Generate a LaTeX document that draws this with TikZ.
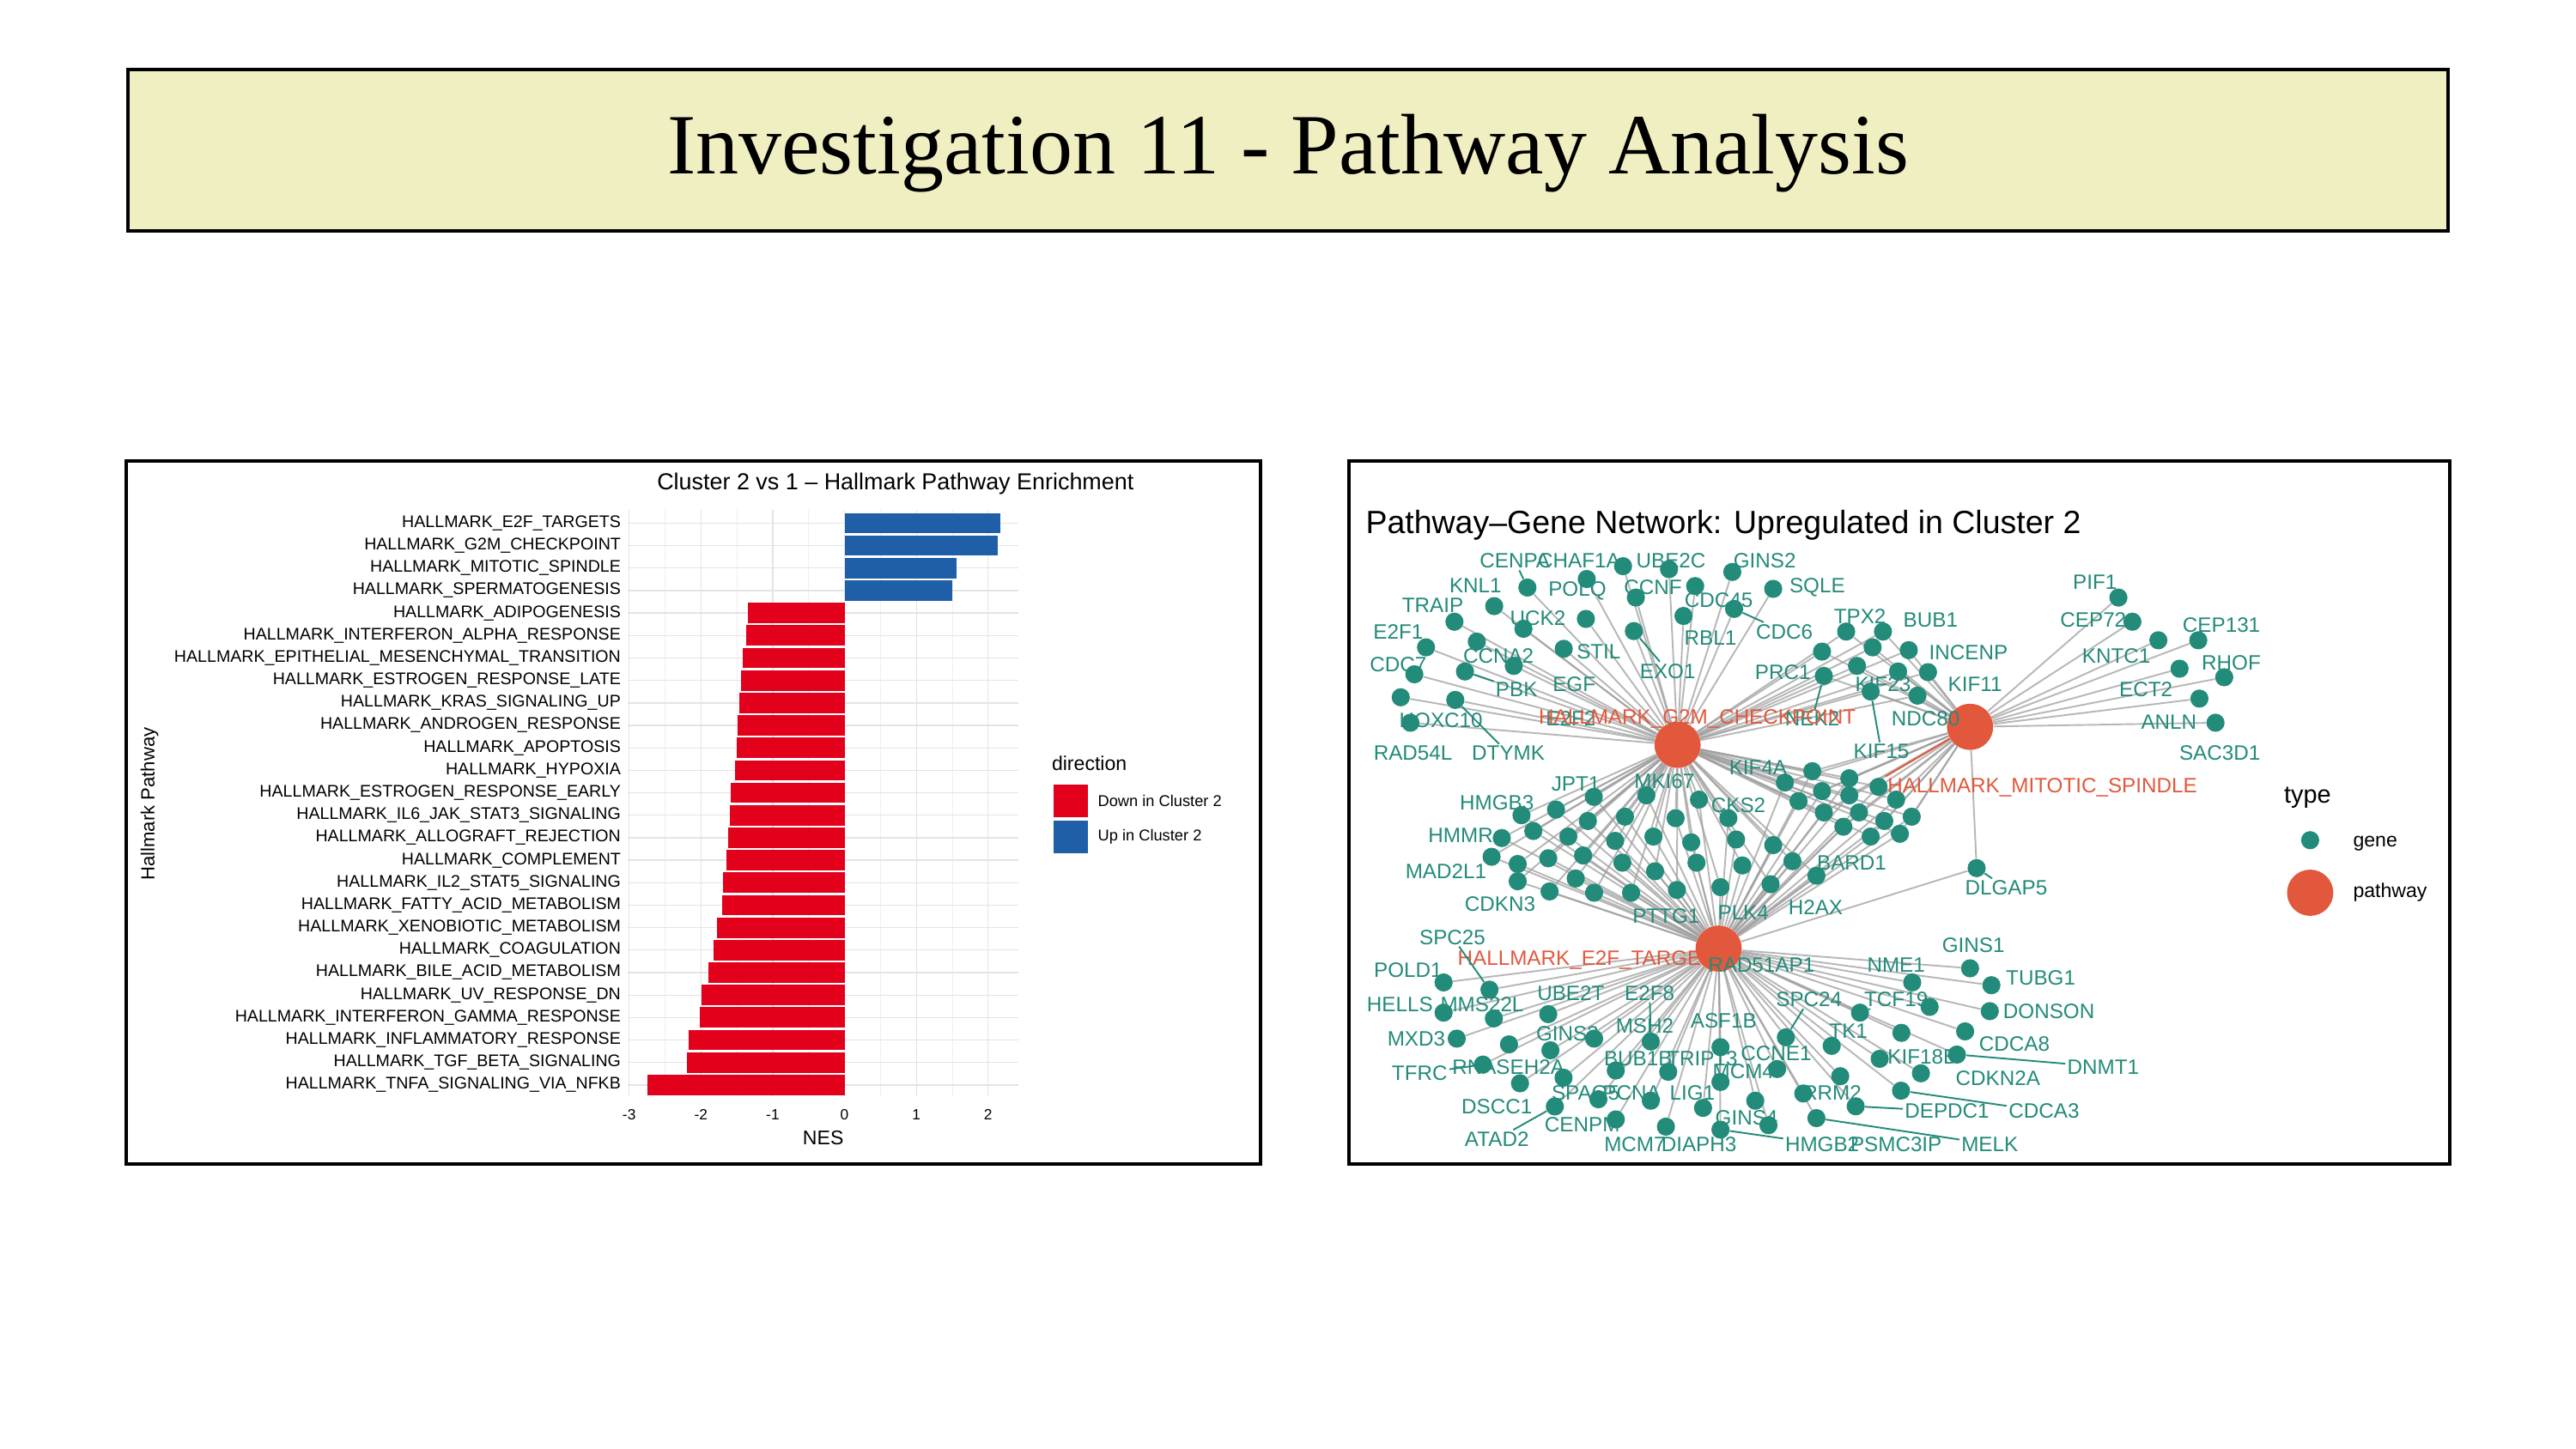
\documentclass[tikz,border=0pt]{standalone}
\usepackage{fontspec}
\setmainfont{Liberation Sans}
\newfontfamily\titlefont{Liberation Serif}
\pgfdeclarelayer{edges}
\pgfsetlayers{edges,main}
\definecolor{teal}{RGB}{35,139,122}
\definecolor{hubc}{RGB}{226,88,60}
\definecolor{titlebg}{RGB}{240,239,193}
\definecolor{barred}{RGB}{227,0,27}
\definecolor{barblue}{RGB}{30,95,168}
\definecolor{gridc}{RGB}{228,228,228}
\tikzset{
  panel/.style={draw=black,line width=2.2pt},
  gene/.style={circle,fill=teal,inner sep=0pt,minimum size=11pt},
  hub/.style={circle,fill=hubc,inner sep=0pt,minimum size=28pt},
  glab/.style={text=teal,font=\fontsize{12.6}{13}\selectfont,inner sep=1pt},
  hlab/.style={text=hubc,font=\fontsize{12.6}{13}\selectfont,inner sep=1pt},
  edge/.style={draw=gray!75,opacity=0.75,line width=1pt},
  leader/.style={draw=teal,line width=1pt},
  blab/.style={font=\fontsize{10.2}{11}\selectfont,anchor=east,inner sep=0pt},
  tick/.style={font=\fontsize{9}{10}\selectfont,inner sep=0pt},
}
\begin{document}
\begin{tikzpicture}[x=0.995pt,y=-0.995pt]
\useasboundingbox (0,-1.5) rectangle (1567.8,880.2);
\begin{pgfonlayer}{edges}
\fill[white] (0,-1.5) rectangle (1567.8,880.2);
\end{pgfonlayer}
% title
\draw[panel,fill=titlebg] (78,41) rectangle (1490,139);
\coordinate (tb) at (784,92);
\node[font=\titlefont\fontsize{52}{56}\selectfont] (title) at (tb) {Investigation 11 - Pathway Analysis};
% panels
\draw[panel] (77,279) rectangle (767,707);
\draw[panel] (821,279) rectangle (1491,707);

% ---------- bar chart ----------
\foreach \v in {-2.5,-1.5,-0.5,0.5,1.5} \draw[gridc!60,line width=0.4pt] (514+\v*43.7,309) -- (514+\v*43.7,666);
\foreach \v in {-3,-2,-1,0,1,2} \draw[gridc,line width=0.7pt] (514+\v*43.7,309) -- (514+\v*43.7,666);
\foreach \i in {1,...,26} \draw[gridc,line width=0.7pt] (382,317+\i*13.68-13.68) -- (620,317+\i*13.68-13.68);
\foreach \n/\v [count=\i] in {E2F\_TARGETS/2.17,G2M\_CHECKPOINT/2.13,MITOTIC\_SPINDLE/1.56,SPERMATOGENESIS/1.5}{
  \fill[barblue] (514,317+\i*13.68-13.68-6.2) rectangle (514+\v*43.7,317+\i*13.68-13.68+6.2);
  \node[blab] (bl\i) at (378,317+\i*13.68-13.68) {HALLMARK\_\n};
}
\foreach \n/\v [count=\i from 5] in {ADIPOGENESIS/-1.35,INTERFERON\_ALPHA\_RESPONSE/-1.37,EPITHELIAL\_MESENCHYMAL\_TRANSITION/-1.42,ESTROGEN\_RESPONSE\_LATE/-1.44,KRAS\_SIGNALING\_UP/-1.46,ANDROGEN\_RESPONSE/-1.49,APOPTOSIS/-1.5,HYPOXIA/-1.53,ESTROGEN\_RESPONSE\_EARLY/-1.58,IL6\_JAK\_STAT3\_SIGNALING/-1.6,ALLOGRAFT\_REJECTION/-1.62,COMPLEMENT/-1.65,IL2\_STAT5\_SIGNALING/-1.69,FATTY\_ACID\_METABOLISM/-1.7,XENOBIOTIC\_METABOLISM/-1.78,COAGULATION/-1.83,BILE\_ACID\_METABOLISM/-1.9,UV\_RESPONSE\_DN/-1.99,INTERFERON\_GAMMA\_RESPONSE/-2.01,INFLAMMATORY\_RESPONSE/-2.17,TGF\_BETA\_SIGNALING/-2.2,TNFA\_SIGNALING\_VIA\_NFKB/-2.75}{
  \fill[barred] (514,317+\i*13.68-13.68-6.2) rectangle (514+\v*43.7,317+\i*13.68-13.68+6.2);
  \node[blab] (bl\i) at (378,317+\i*13.68-13.68) {HALLMARK\_\n};
}
\foreach \v/\t in {-3/-3,-2/-2,-1/-1,0/0,1/1,2/2} \node[tick] (tk\t) at (514+\v*43.7,677) {\t};
\node[font=\fontsize{12}{13}\selectfont] (nes) at (501,691) {NES};
\node[font=\fontsize{11.5}{12}\selectfont,rotate=90] (ylab) at (91,488) {Hallmark Pathway};
\node[font=\fontsize{14}{15}\selectfont] (btitle) at (545,293) {Cluster 2 vs 1 – Hallmark Pathway Enrichment};
\node[font=\fontsize{12}{13}\selectfont,anchor=west,inner sep=0pt] (dir) at (640,463) {direction};
\fill[barred] (641,476) rectangle (662,496);
\fill[barblue] (641,498) rectangle (662,518);
\node[font=\fontsize{9.5}{10}\selectfont,anchor=west,inner sep=0pt] (ldown) at (668,486) {Down in Cluster 2};
\node[font=\fontsize{9.5}{10}\selectfont,anchor=west,inner sep=0pt] (lup) at (668,508) {Up in Cluster 2};

% ---------- network ----------
\node[font=\fontsize{19.5}{21}\selectfont,anchor=west,inner sep=0pt] (ntitle) at (831,318) {Pathway–Gene Network: Upregulated in Cluster 2};
\node[hlab,anchor=west] (le2f) at (886,583) {HALLMARK\_E2F\_TARGETS};
\node[hub] (g2m) at (1021,452) {};
\node[hub] (mit) at (1199,441) {};
\node[hub] (e2f) at (1046,576) {};

% G2M only
\foreach \x/\y [count=\i] in {987.8/343.2,1015.8/345,1054.3/346.7,1079.2/357,929.6/356.2,909.4/367.5,965.7/351,1031.7/355.3,995.6/362.3,1055.4/369.2,885.2/377,927.2/381.3,965.2/375.3,1024.6/373.5,867.9/392.6,898.8/389.1,921.3/403.9,951.7/393.5,994.4/382.7,860.8/409,891.6/407.3,852.5/423,885.7/424.6,858.4/438.5}{
  \node[gene] (a\i) at (\x,\y) {};
  \begin{pgfonlayer}{edges}\draw[edge] (a\i) -- (g2m);\end{pgfonlayer}
}
% G2M + E2F
\foreach \x/\y [count=\i] in {1002/482.7,970/483.6,926/494.8,914/508.7,1034/485.3,947/491.4,966.4/498.3,989/495.7,1019.8/496.6,1051.9/496.6,933.2/504.4,954.5/507.8,983/510.4,1006.3/507.8,1029.3/511.3,1056.6/509.6,1079.2/513,907.8/520.1,923.7/524.5,923.7/535,942.3/521,943.1/541.2,959/533.3,963.5/519.3,970.2/542,987.4/523.7,992.7/542,1007.3/528.9,1020.6/540.3,1032.5/523.7,1047.1/538.6,1060.4/525.4,1077.6/536.8,1090.9/522.8,1105.5/531.6}{
  \node[gene] (d\i) at (\x,\y) {};
  \begin{pgfonlayer}{edges}\draw[edge] (d\i) -- (g2m); \draw[edge] (d\i) -- (e2f);\end{pgfonlayer}
}
% G2M + MIT
\foreach \x/\y [count=\i] in {1123.6/383,1146/383,1108.9/395.2,1139.7/392.6,1130.2/403.9,1155.2/407.3,1138.5/419.5,1161.7/394.3,1173.4/407.7,1110/410,1167/422}{
  \node[gene] (e\i) at (\x,\y) {};
  \begin{pgfonlayer}{edges}\draw[edge] (e\i) -- (g2m); \draw[edge] (e\i) -- (mit);\end{pgfonlayer}
}
% G2M + MIT + E2F
\foreach \x/\y [count=\i] in {1086.3/474.9,1103/468,1125.5/472.3,1143.3/477.5,1094.6/486.2,1108.9/480.1,1125.5/482.7,1154/485.3,1110/493.1,1131.4/493.1,1146.8/498.3,1163.5/495.7,1121.9/501.8,1138.5/507.8,1156.3/506.1}{
  \node[gene] (f\i) at (\x,\y) {};
  \begin{pgfonlayer}{edges}\draw[edge] (f\i) -- (g2m); \draw[edge] (f\i) -- (mit); \draw[edge] (f\i) -- (e2f);\end{pgfonlayer}
}
% MIT only
\foreach \x/\y [count=\i] in {1289.3/362.3,1297.8/377,1313.6/388.3,1337.9/388.3,1353.7/410.8,1326.5/405.6,1338.6/423.8,1348.4/438.5}{
  \node[gene] (b\i) at (\x,\y) {};
  \begin{pgfonlayer}{edges}\draw[edge] (b\i) -- (mit);\end{pgfonlayer}
}
% MIT + E2F
\node[gene] (dlgap5) at (1203,527) {};
\begin{pgfonlayer}{edges}\draw[edge] (dlgap5) -- (mit); \draw[edge] (dlgap5) -- (e2f);\end{pgfonlayer}
% E2F only
\foreach \x/\y [count=\i] in {906.5/601,878.6/596.6,878.6/615,909.2/618.5,886.6/630.8,942.3/615.9,1004.7/632.6,970.2/630.8,1047.1/636,1163.8/596.6,1199/588,1212/598.3,1211/614.1,1086.9/630,1132/615,1174.4/611.5,1196/626.4,1114.8/635.2,1157.2/627.3,1144/643.1,1191/640.5,1169.1/651.9,1081.6/649.3,983.4/650.2,1015.3/651,1047.1/657.2,951.6/654.6,943.6/637.9,918.4/634.3,925.1/658,972.8/667.7,1004.7/668.6,1036.5/673,1068.3/668.6,1097.5/664.2,1120/653.7,1157/662.5,1129.4/672,1105.5/679.2,1076.3/683.5,1047.1/686.2,1013.9/684.4,983.4/680,946.3/672.1,902.5/646.6}{
  \node[gene] (c\i) at (\x,\y) {};
  \begin{pgfonlayer}{edges}\draw[edge] (c\i) -- (e2f);\end{pgfonlayer}
}

% gene labels
\foreach \t/\x/\y in {CENPA/922/340,CHAF1A/961/340,UBE2C/1017/340,GINS2/1074/340,KNL1/898/355,POLQ/960/358,CCNF/1006/356,CDC45/1046/364,SQLE/1106/356,TRAIP/872/367,UCK2/936/375,RBL1/1041/387,CDC6/1086/383,E2F1/851/383,CCNA2/912/398,STIL/973/395,EXO1/1015/407,CDC7/851/403,PBK/923/418,EGF/958/415,HOXC10/877/437,E2F2/956/436,RAD54L/860/457,DTYMK/918/457,TPX2/1132/374,BUB1/1175/376,PRC1/1085/408,KIF23/1146/415,INCENP/1198/396,KIF11/1202/415,NEK2/1103/436,NDC80/1172/436,KIF15/1145/456,PIF1/1275/353,CEP72/1274/376,CEP131/1352/379,KNTC1/1288/398,RHOF/1358/402,ECT2/1306/418,ANLN/1320/438,SAC3D1/1351/457,KIF4A/1070/466,MKI67/1013/474,JPT1/959/476,HMGB3/911/487,CKS2/1058/489,HMMR/889/507,MAD2L1/880/529,BARD1/1127/524,CDKN3/913/549,PTTG1/1014/556,PLK4/1061/554,H2AX/1105/551,DLGAP5/1221/539,SPC25/884/569,GINS1/1201/574,NME1/1154/586,RAD51AP1/1072/586,POLD1/857/589,TUBG1/1242/594,HELLS/852/610,MMS22L/902/610,UBE2T/956/603,E2F8/1004/603,SPC24/1101/607,TCF19/1154/607,DONSON/1247/614,ASF1B/1049/620,MSH2/1001/623,GINS3/954/628,TK1/1125/626,CDCA8/1226/634,MXD3/862/631,CCNE1/1081/640,BUB1B/997/643,TRIP13/1036/643,KIF18B/1170/642,DNMT1/1280/648,TFRC/864/652,RNASEH2A/918/648,MCM4/1061/651,CDKN2A/1216/655,SPAG5/965/664,PCNA/993/664,LIG1/1030/664,RRM2/1115/664,DSCC1/911/672,DEPDC1/1185/675,CDCA3/1244/675,GINS4/1063/679,CENPM/963/683,ATAD2/911/692,MCM7/995/695,DIAPH3/1034/695,HMGB2/1109/695,PSMC3IP/1154/695,MELK/1211/695}{
  \node[glab] (L\t) at (\x,\y) {\t};
}
\node[hlab] (lg2m) at (1033,436) {HALLMARK\_G2M\_CHECKPOINT};
\node[hlab] (lmit) at (1243,478) {HALLMARK\_MITOTIC\_SPINDLE};
\draw[draw=hubc,line width=1pt] (mit) -- (lmit.north west);
% leaders
\draw[leader] (LCENPA) -- (a5);
\draw[leader] (LPBK) -- (a21);
\draw[leader] (LDTYMK) -- (a23);
\draw[leader] (LEXO1) -- (a19);
\draw[leader] (LCDC6) -- (a10);
\draw[leader] (LNEK2) -- (e10);
\draw[leader] (LKIF15) -- (e7);
\draw[leader] (LSPC25) -- (c1);
\draw[leader] (LE2F8) -- (c7);
\draw[leader] (LSPC24) -- (c14);
\draw[leader] (LTCF19) -- (c15);
\draw[leader] (LTFRC) -- (c45);
\draw[leader] (LATAD2) -- (c44);
\draw[leader] (LDEPDC1) -- (c38);
\draw[leader] (LCDCA3) -- (c37);
\draw[leader] (LMELK) -- (c39);
\draw[leader] (LHMGB2) -- (c41);
\draw[leader] (LDNMT1) -- (c21);
\draw[leader] (LDLGAP5) -- (dlgap5);
% legend
\node[font=\fontsize{15}{16}\selectfont,anchor=west,inner sep=0pt] (ltype) at (1390,484) {type};
\node[gene] (lgdot) at (1406,510) {};
\node[font=\fontsize{12}{13}\selectfont,anchor=west,inner sep=0pt] (lgene) at (1432,512) {gene};
\node[hub] (lpdot) at (1406,542) {};
\node[font=\fontsize{12}{13}\selectfont,anchor=west,inner sep=0pt] (lpath) at (1432,542) {pathway};
\end{tikzpicture}
\end{document}
